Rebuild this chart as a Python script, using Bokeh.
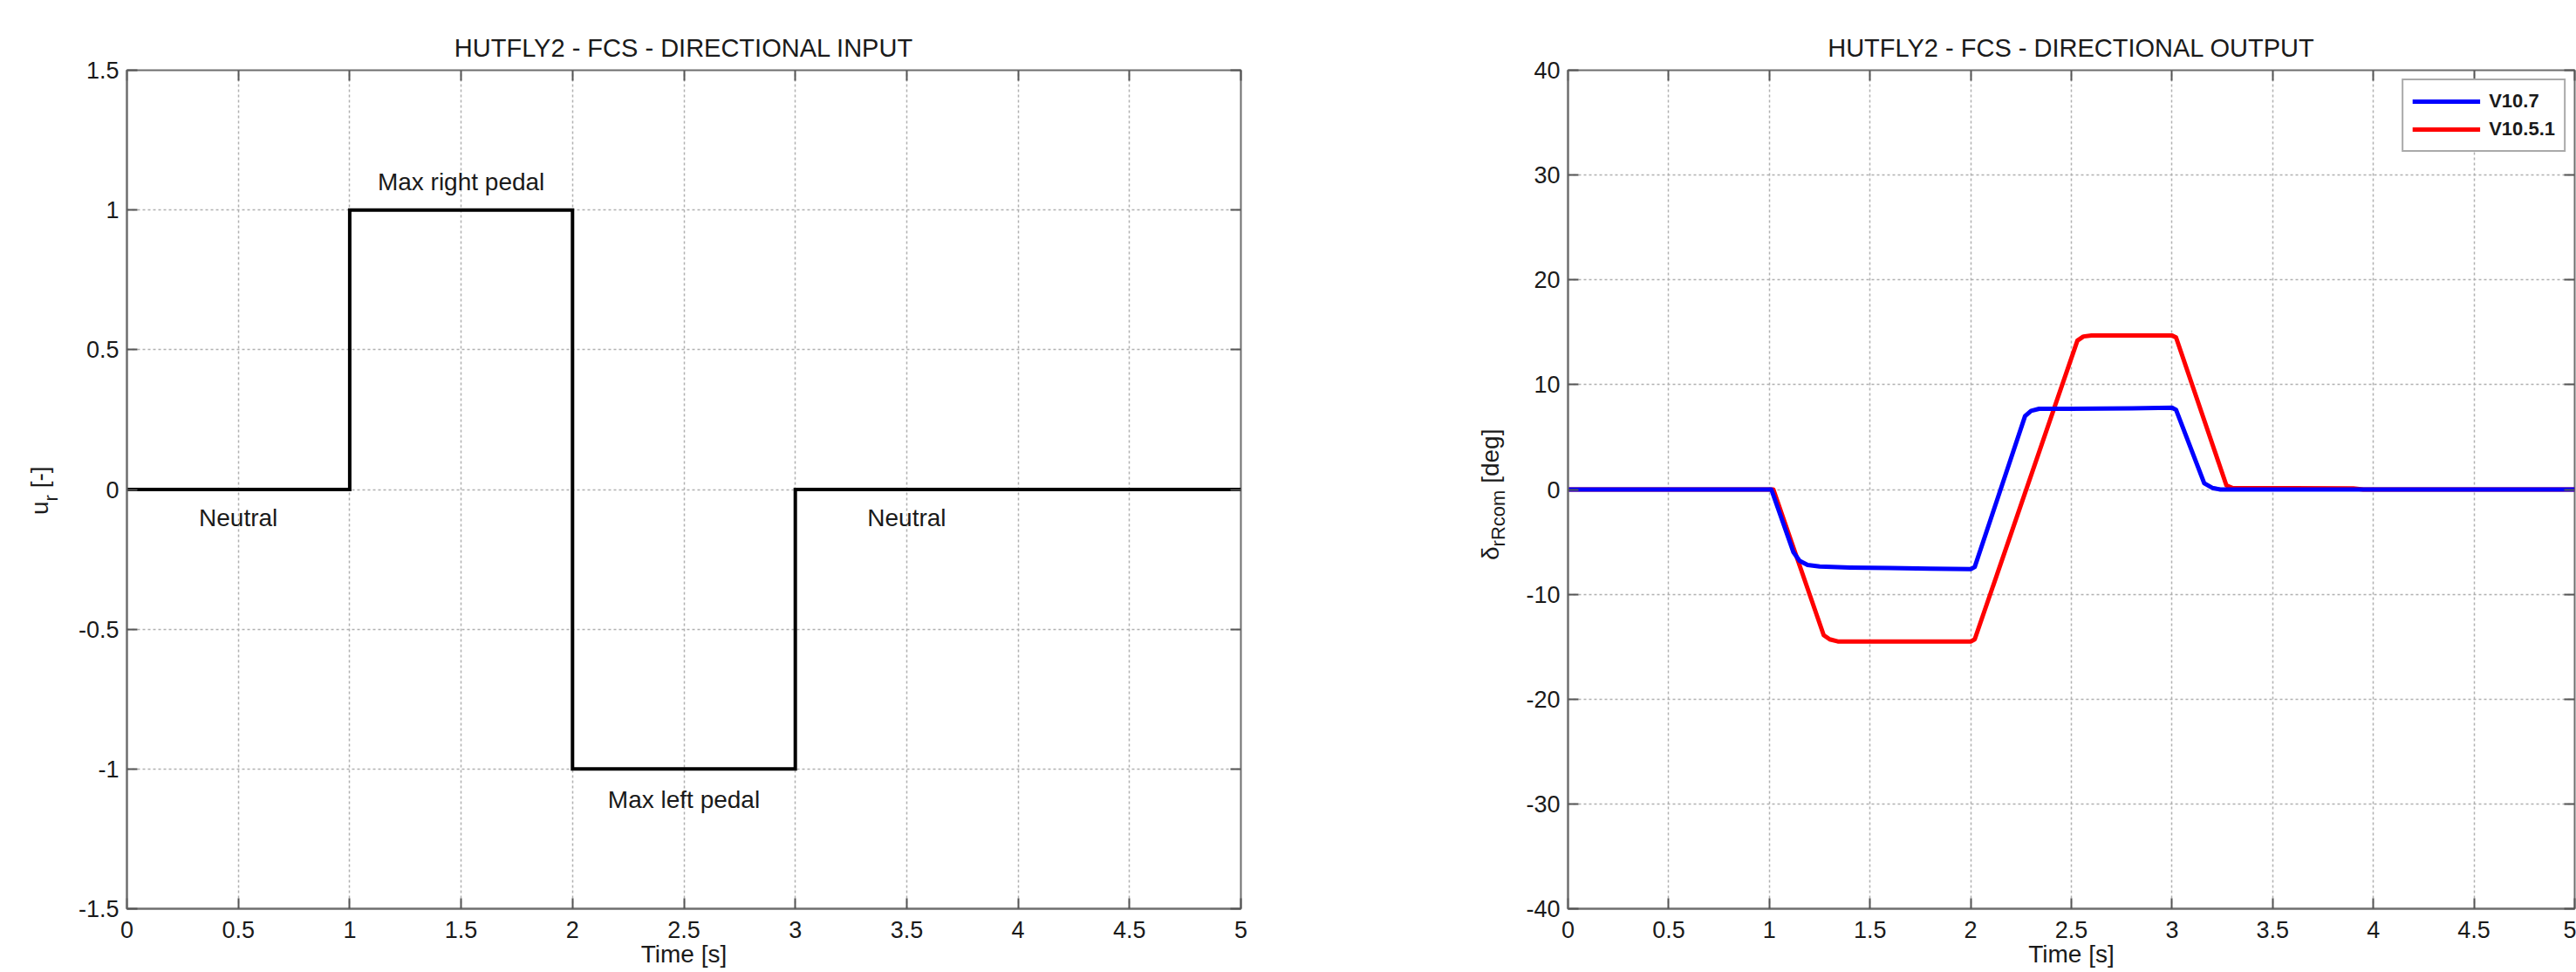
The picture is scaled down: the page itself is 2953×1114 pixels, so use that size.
import math
from bokeh.plotting import figure
from bokeh.models import Range1d, FixedTicker, LinearAxis, Legend, LegendItem, Div
from bokeh.layouts import row
from bokeh.embed import file_html
from bokeh.resources import INLINE
from bokeh.core.properties import value

# ---------------- data ----------------
input_t = [0.0, 1.0, 2.0, 3.0, 5.0]
input_u = [0.0, 1.0, -1.0, 0.0, 0.0]

v107_t = [0.0, 1.01, 1.12, 1.15, 1.19, 1.25, 1.4, 1.6, 1.8, 2.0, 2.02, 2.27, 2.30, 2.34, 2.5, 2.8, 3.0, 3.02, 3.16, 3.2, 3.24, 5.0]
v107_d = [0.0, 0.0, -6.0, -6.8, -7.2, -7.35, -7.45, -7.5, -7.55, -7.6, -7.4, 7.0, 7.5, 7.7, 7.7, 7.75, 7.8, 7.6, 0.6, 0.15, 0.0, 0.0]

v1051_t = [0.0, 1.02, 1.27, 1.30, 1.34, 1.6, 2.0, 2.02, 2.53, 2.56, 2.6, 3.0, 3.02, 3.27, 3.30, 3.6, 3.9, 3.95, 5.0]
v1051_d = [0.0, 0.0, -13.9, -14.3, -14.5, -14.5, -14.5, -14.3, 14.2, 14.6, 14.7, 14.7, 14.5, 0.4, 0.15, 0.12, 0.1, 0.0, 0.0]

x_ticks = [0.0, 0.5, 1.0, 1.5, 2.0, 2.5, 3.0, 3.5, 4.0, 4.5, 5.0]
x_tick_labels = ["0", "0.5", "1", "1.5", "2", "2.5", "3", "3.5", "4", "4.5", "5"]
left_y_ticks = [-1.5, -1.0, -0.5, 0.0, 0.5, 1.0, 1.5]
left_y_tick_labels = ["-1.5", "-1", "-0.5", "0", "0.5", "1", "1.5"]
right_y_ticks = [-40.0, -30.0, -20.0, -10.0, 0.0, 10.0, 20.0, 30.0, 40.0]
right_y_tick_labels = ["-40", "-30", "-20", "-10", "0", "10", "20", "30", "40"]

ann_texts = ["Max right pedal", "Max left pedal", "Neutral", "Neutral"]
ann_x = [1.5, 2.5, 0.5, 3.5]
ann_y = [1.1, -1.11, -0.1, -0.1]

series_names = ["V10.7", "V10.5.1"]
left_ylabel = ("u", "r", " [-]")
right_ylabel = ("\u03b4", "rRcom", " [deg]")

# ---------------- styling ----------------
FONT = "Liberation Sans"
TXT = "#1a1a1a"
FRAME = "#6e6e6e"
GRID = "#b0b0b0"
FRAME_H = 961
TOP = 80
BOTTOM = 1114 - TOP - FRAME_H
PAGE_H = 1114


def tick_dict(ticks, labels):
    return {float(t): l for t, l in zip(ticks, labels)}


def make_fig(title, frame_w, b_left, b_right, yr, yticks, ylabels):
    p = figure(frame_width=frame_w, frame_height=FRAME_H,
               min_border_left=b_left, min_border_right=b_right,
               min_border_top=TOP, min_border_bottom=BOTTOM,
               x_range=Range1d(0, 5), y_range=Range1d(*yr),
               output_backend="svg", toolbar_location=None, title=title)
    p.background_fill_color = "white"
    p.border_fill_color = "white"
    p.outline_line_color = FRAME
    p.outline_line_width = 2
    p.title.text_font = FONT
    p.title.text_font_size = "29px"
    p.title.text_font_style = "normal"
    p.title.text_color = TXT
    p.title.align = "center"
    p.title.standoff = 20

    for ax, ticks, labels in ((p.xaxis[0], x_ticks, x_tick_labels), (p.yaxis[0], yticks, ylabels)):
        ax.ticker = FixedTicker(ticks=ticks)
        ax.major_label_overrides = tick_dict(ticks, labels)
        ax.major_label_text_font = FONT
        ax.major_label_text_font_size = "27px"
        ax.major_label_text_color = TXT
        ax.axis_line_color = FRAME
        ax.axis_line_width = 2
        ax.major_tick_in = 12
        ax.major_tick_out = 0
        ax.major_tick_line_color = "#555555"
        ax.major_tick_line_width = 2
        ax.minor_tick_line_color = None
    p.xaxis[0].major_label_standoff = 14
    p.yaxis[0].major_label_standoff = 9
    p.xaxis[0].axis_label = "Time [s]"
    p.xaxis[0].axis_label_text_font = FONT
    p.xaxis[0].axis_label_text_font_size = "28px"
    p.xaxis[0].axis_label_text_font_style = "normal"
    p.xaxis[0].axis_label_text_color = TXT
    p.xaxis[0].axis_label_standoff = 0

    # mirrored ticks on top and right (no labels)
    for side, ticks in (("above", x_ticks), ("right", yticks)):
        ax = LinearAxis(ticker=FixedTicker(ticks=ticks), major_label_text_font_size="1px",
                        major_label_text_color=None,
                        major_label_standoff=0, axis_line_color=None, major_tick_in=12,
                        major_tick_out=0, major_tick_line_color="#555555",
                        major_tick_line_width=2, minor_tick_line_color=None)
        p.add_layout(ax, side)

    p.xgrid.ticker = FixedTicker(ticks=x_ticks)
    p.ygrid.ticker = FixedTicker(ticks=yticks)
    for g in (p.xgrid, p.ygrid):
        g.grid_line_color = GRID
        g.grid_line_dash = "3 3"
        g.grid_line_width = 1.5
    return p


def ylabel_div(parts, width, baseline_x, bottom_y, sub_shift):
    main, sub, rest = parts
    # text rotated -90deg around its top-left corner; line-height 1 -> baseline ~0.846em below top
    left = baseline_x - 0.846 * 28
    html = (
        f'<div style="position:relative;width:{width}px;height:{PAGE_H}px;">'
        f'<div style="position:absolute;left:{left:.1f}px;top:{bottom_y}px;'
        f'transform:rotate(-90deg);transform-origin:0 0;white-space:nowrap;'
        f'font-family:\'{FONT}\';font-size:28px;line-height:1;color:{TXT};">'
        f'{main}<span style="font-size:22px;position:relative;top:{sub_shift}px;">{sub}</span>{rest}'
        f'</div></div>'
    )
    return Div(text=html, width=width, height=PAGE_H, margin=0)


# ---------------- layout geometry ----------------
DIV_L_W = 70
P1_LEFT = 145 - DIV_L_W
DIV_R_X = 1637
P2_X = 1737
P1_RIGHT = DIV_R_X - DIV_L_W - P1_LEFT - 1277

# ---------------- left figure ----------------
p1 = make_fig("HUTFLY2 - FCS - DIRECTIONAL INPUT", 1277, P1_LEFT, P1_RIGHT,
              (-1.5, 1.5), left_y_ticks, left_y_tick_labels)
p1.step(input_t, input_u, mode="after", line_color="black", line_width=4, line_join="miter")
p1.text(x=ann_x, y=ann_y, text=ann_texts, text_font=value(FONT), text_font_size="28px",
        text_color=TXT, text_align="center", text_baseline="middle")

# ---------------- right figure ----------------
p2 = make_fig("HUTFLY2 - FCS - DIRECTIONAL OUTPUT", 1154, 1797 - P2_X, 2,
              (-40, 40), right_y_ticks, right_y_tick_labels)
r_red = p2.line(v1051_t, v1051_d, line_color="#ff0000", line_width=5, line_join="round")
r_blue = p2.line(v107_t, v107_d, line_color="#0000ff", line_width=5, line_join="round")

legend = Legend(items=[LegendItem(label=series_names[0], renderers=[r_blue]),
                       LegendItem(label=series_names[1], renderers=[r_red])],
                location="top_right", margin=10, padding=10, spacing=4,
                glyph_width=78, glyph_height=28, label_height=28, label_standoff=10,
                label_text_font=FONT, label_text_font_size="22px",
                label_text_font_style="bold", label_text_color=TXT,
                border_line_color="#555555", border_line_width=2,
                background_fill_color="white", background_fill_alpha=1.0)
p2.add_layout(legend, "center")

div_l = ylabel_div(left_ylabel, DIV_L_W, 56, 590, 11)
div_r = ylabel_div(right_ylabel, P2_X - DIV_R_X, 1719 - DIV_R_X, 642, 7)

layout = row(div_l, p1, div_r, p2, spacing=0)
open("out.html", "w").write(file_html(layout, INLINE))
